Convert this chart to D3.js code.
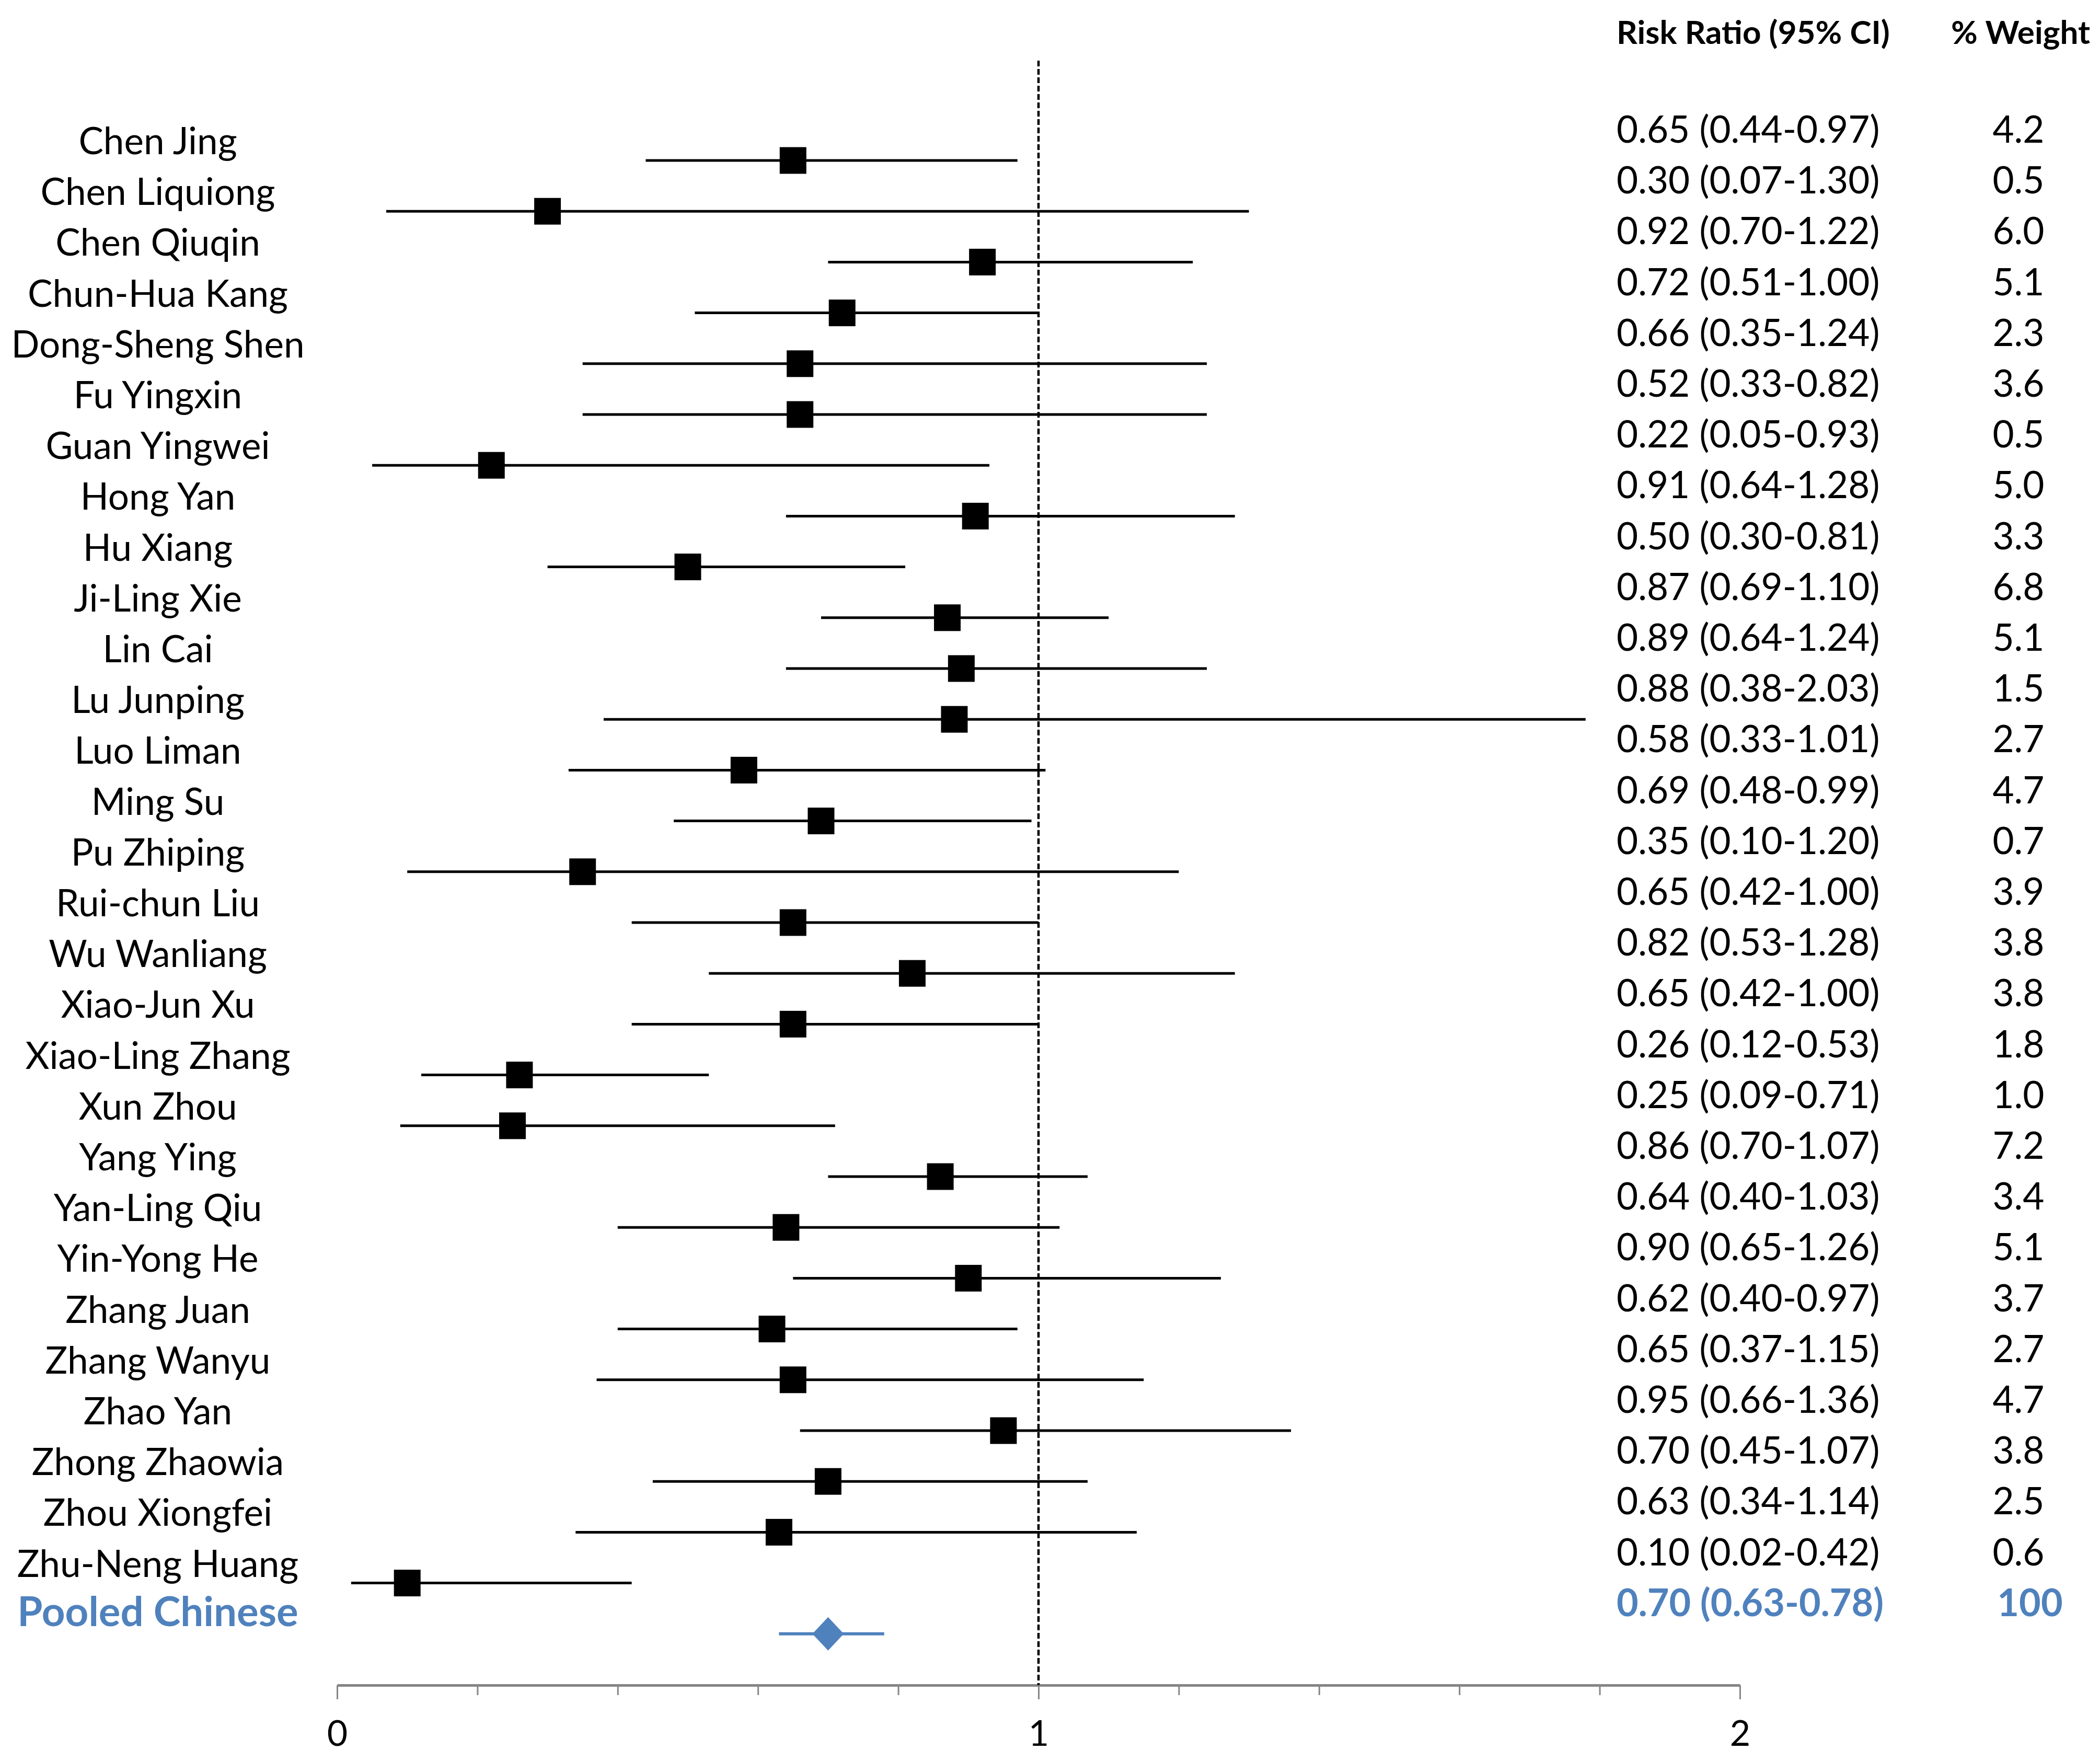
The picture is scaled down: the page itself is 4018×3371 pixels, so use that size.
<!DOCTYPE html>
<html>
<head>
<meta charset="utf-8">
<script src="https://cdn.jsdelivr.net/npm/d3@7"></script>
<style>
  html, body { margin: 0; padding: 0; background: #fff; }
  text { font-family: Lato, "Open Sans", sans-serif; }
</style>
</head>
<body>
<svg id="forest" width="4018" height="3371"></svg>
<script>
// study names, top to bottom
const studies = ["Chen Jing", "Chen Liquiong", "Chen Qiuqin", "Chun-Hua Kang", "Dong-Sheng Shen",
  "Fu Yingxin", "Guan Yingwei", "Hong Yan", "Hu Xiang", "Ji-Ling Xie", "Lin Cai", "Lu Junping",
  "Luo Liman", "Ming Su", "Pu Zhiping", "Rui-chun Liu", "Wu Wanliang", "Xiao-Jun Xu",
  "Xiao-Ling Zhang", "Xun Zhou", "Yang Ying", "Yan-Ling Qiu", "Yin-Yong He", "Zhang Juan",
  "Zhang Wanyu", "Zhao Yan", "Zhong Zhaowia", "Zhou Xiongfei", "Zhu-Neng Huang"];

// values printed in the table column
const rr     = [0.65, 0.30, 0.92, 0.72, 0.66, 0.52, 0.22, 0.91, 0.50, 0.87, 0.89, 0.88, 0.58, 0.69, 0.35,
                0.65, 0.82, 0.65, 0.26, 0.25, 0.86, 0.64, 0.90, 0.62, 0.65, 0.95, 0.70, 0.63, 0.10];
const ciLow  = [0.44, 0.07, 0.70, 0.51, 0.35, 0.33, 0.05, 0.64, 0.30, 0.69, 0.64, 0.38, 0.33, 0.48, 0.10,
                0.42, 0.53, 0.42, 0.12, 0.09, 0.70, 0.40, 0.65, 0.40, 0.37, 0.66, 0.45, 0.34, 0.02];
const ciHigh = [0.97, 1.30, 1.22, 1.00, 1.24, 0.82, 0.93, 1.28, 0.81, 1.10, 1.24, 2.03, 1.01, 0.99, 1.20,
                1.00, 1.28, 1.00, 0.53, 0.71, 1.07, 1.03, 1.26, 0.97, 1.15, 1.36, 1.07, 1.14, 0.42];
const weights = ["4.2", "0.5", "6.0", "5.1", "2.3", "3.6", "0.5", "5.0", "3.3", "6.8", "5.1", "1.5", "2.7",
                 "4.7", "0.7", "3.9", "3.8", "3.8", "1.8", "1.0", "7.2", "3.4", "5.1", "3.7", "2.7", "4.7",
                 "3.8", "2.5", "0.6"];

// marker positions as drawn in the plot (row 6 repeats row 5, Lu Junping's bar stops early)
const plotRR   = [0.65, 0.30, 0.92, 0.72, 0.66, 0.66, 0.22, 0.91, 0.50, 0.87, 0.89, 0.88, 0.58, 0.69, 0.35,
                  0.65, 0.82, 0.65, 0.26, 0.25, 0.86, 0.64, 0.90, 0.62, 0.65, 0.95, 0.70, 0.63, 0.10];
const plotLow  = [0.44, 0.07, 0.70, 0.51, 0.35, 0.35, 0.05, 0.64, 0.30, 0.69, 0.64, 0.38, 0.33, 0.48, 0.10,
                  0.42, 0.53, 0.42, 0.12, 0.09, 0.70, 0.40, 0.65, 0.40, 0.37, 0.66, 0.45, 0.34, 0.02];
const plotHigh = [0.97, 1.30, 1.22, 1.00, 1.24, 1.24, 0.93, 1.28, 0.81, 1.10, 1.24, 1.78, 1.01, 0.99, 1.20,
                  1.00, 1.28, 1.00, 0.53, 0.71, 1.07, 1.03, 1.26, 0.97, 1.15, 1.36, 1.07, 1.14, 0.42];

// pooled estimate
const pooled = { name: "Pooled Chinese", rr: 0.70, low: 0.63, high: 0.78, weight: "100" };

const headers = ["Risk Ratio (95% CI)", "% Weight"];
const xTicks = [0, 0.2, 0.4, 0.6, 0.8, 1, 1.2, 1.4, 1.6, 1.8, 2];

const blue = "#4f81bd";
const fontSize = 71;

const svg = d3.select("#forest");
svg.append("rect").attr("width", 4018).attr("height", 3371).attr("fill", "#fff");

const x = d3.scaleLinear().domain([0, 2]).range([645, 3329]);
const y = d3.scaleLinear().domain([0, studies.length]).range([307, 307 + 97.2 * studies.length]);
const axisY = 3224;

const rows = studies.map((s, i) => ({
  name: s, i: i,
  text: rr[i].toFixed(2) + " (" + ciLow[i].toFixed(2) + "-" + ciHigh[i].toFixed(2) + ")",
  weight: weights[i],
  est: plotRR[i], lo: plotLow[i], hi: plotHigh[i]
}));

// axis
const axis = d3.axisBottom(x)
  .tickValues(xTicks)
  .tickSize(19)
  .tickSizeOuter(0)
  .tickFormat(d => Number.isInteger(d) ? d : "");

const gAxis = svg.append("g")
  .attr("transform", "translate(0," + axisY + ")")
  .call(axis);
gAxis.select(".domain").attr("stroke", "#868686").attr("stroke-width", 5);
gAxis.selectAll(".tick line")
  .attr("stroke", "#868686").attr("stroke-width", 3)
  .attr("y2", d => Number.isInteger(d) ? 27 : 19);
gAxis.selectAll(".tick text")
  .attr("y", 116).attr("dy", 0)
  .attr("fill", "#000")
  .style("font-family", "Lato, 'Open Sans', sans-serif")
  .style("font-size", "68px");

// reference line at 1
svg.append("line")
  .attr("x1", x(1)).attr("x2", x(1))
  .attr("y1", 116).attr("y2", axisY)
  .attr("stroke", "#000").attr("stroke-width", 4.5)
  .attr("stroke-dasharray", "11,5");

// study CI lines and squares
const g = svg.append("g");
g.selectAll("line.ci")
  .data(rows)
  .enter().append("line")
  .attr("class", "ci")
  .attr("x1", d => x(d.lo)).attr("x2", d => x(d.hi))
  .attr("y1", d => y(d.i)).attr("y2", d => y(d.i))
  .attr("stroke", "#000").attr("stroke-width", 5);

const sq = 51;
g.selectAll("rect.est")
  .data(rows)
  .enter().append("rect")
  .attr("class", "est")
  .attr("x", d => x(d.est) - sq / 2).attr("y", d => y(d.i) - sq / 2)
  .attr("width", sq).attr("height", sq)
  .attr("fill", "#000");

// pooled diamond
const py = y(studies.length);
svg.append("line")
  .attr("x1", x(pooled.low)).attr("x2", x(pooled.high))
  .attr("y1", py).attr("y2", py)
  .attr("stroke", blue).attr("stroke-width", 6);
const dw = 30, dh = 32;
svg.append("path")
  .attr("d", d3.line()([[x(pooled.rr) - dw, py], [x(pooled.rr), py - dh], [x(pooled.rr) + dw, py], [x(pooled.rr), py + dh]]) + "Z")
  .attr("fill", blue);

// name column
svg.selectAll("text.name")
  .data(rows)
  .enter().append("text")
  .attr("class", "name")
  .attr("x", 302).attr("y", d => y(d.i) - 12)
  .attr("text-anchor", "middle")
  .style("font-size", fontSize + "px")
  .text(d => d.name);

svg.append("text")
  .attr("x", 302).attr("y", py - 15)
  .attr("text-anchor", "middle")
  .attr("fill", blue).attr("font-weight", "bold")
  .style("font-size", "78px")
  .text(pooled.name);

// table columns
svg.append("text")
  .attr("x", 3093).attr("y", 84)
  .attr("font-weight", "bold")
  .style("font-size", "62px")
  .text(headers[0]);
svg.append("text")
  .attr("x", 3866).attr("y", 84)
  .attr("text-anchor", "middle")
  .attr("font-weight", "bold")
  .style("font-size", "62px")
  .text(headers[1]);

svg.selectAll("text.rr")
  .data(rows)
  .enter().append("text")
  .attr("class", "rr")
  .attr("x", 3093).attr("y", d => y(d.i) - 34)
  .style("font-size", fontSize + "px")
  .text(d => d.text);

svg.selectAll("text.wt")
  .data(rows)
  .enter().append("text")
  .attr("class", "wt")
  .attr("x", 3862).attr("y", d => y(d.i) - 34)
  .attr("text-anchor", "middle")
  .style("font-size", fontSize + "px")
  .text(d => d.weight);

svg.append("text")
  .attr("x", 3093).attr("y", py - 34)
  .attr("fill", blue).attr("font-weight", "bold")
  .style("font-size", "72px")
  .text(pooled.rr.toFixed(2) + " (" + pooled.low.toFixed(2) + "-" + pooled.high.toFixed(2) + ")");
svg.append("text")
  .attr("x", 3884).attr("y", py - 34)
  .attr("text-anchor", "middle")
  .attr("fill", blue).attr("font-weight", "bold")
  .style("font-size", "72px")
  .text(pooled.weight);
</script>
</body>
</html>
